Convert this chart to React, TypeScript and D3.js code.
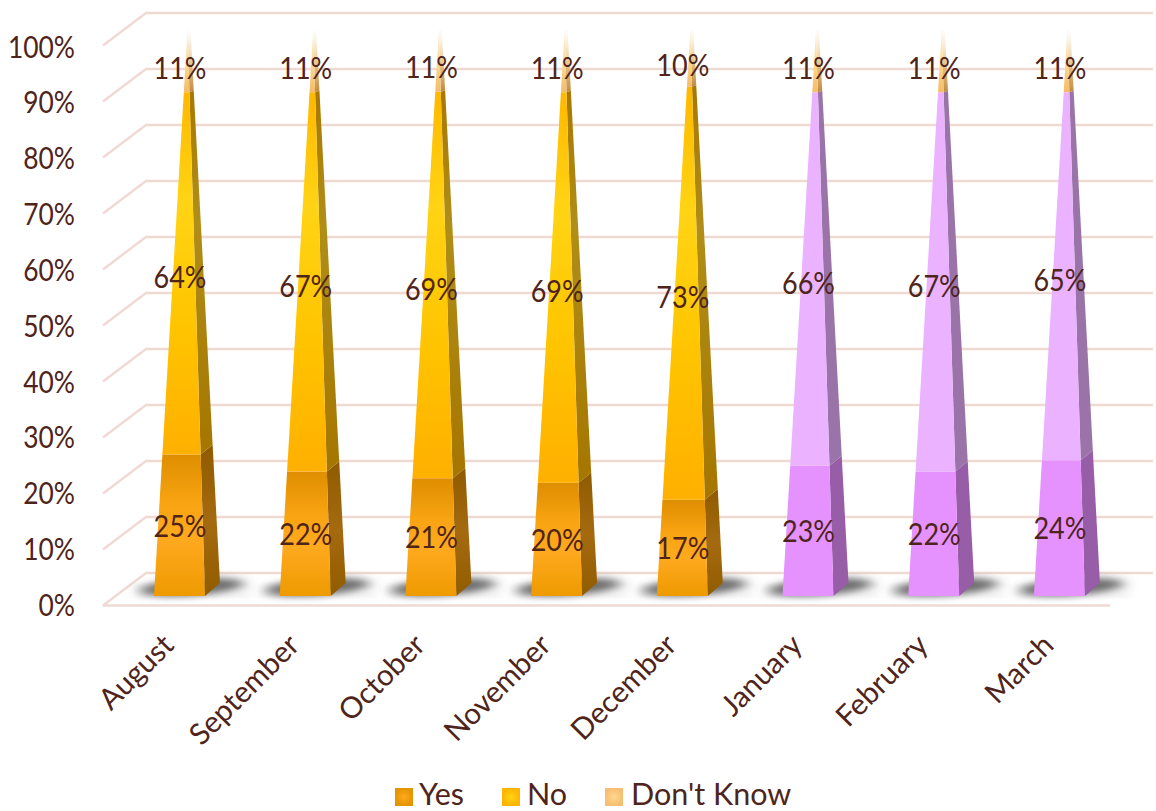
import React from "react";
import * as d3 from "d3";

// Survey results per month
const months = ["August", "September", "October", "November", "December", "January", "February", "March"];
const yes = [25, 22, 21, 20, 17, 23, 22, 24];
const no = [64, 67, 69, 69, 73, 66, 67, 65];
const dontKnow = [11, 11, 11, 11, 10, 11, 11, 11];
const purpleMonths = ["January", "February", "March"];
const seriesNames = ["Yes", "No", "Don't Know"];
const percentTicks = [0, 10, 20, 30, 40, 50, 60, 70, 80, 90, 100];

const INK = "#4F241A";
const GRID = "#EFDAD3";
const FONT = "Lato, 'Open Sans', sans-serif";

// Pyramid geometry: a base rhombus converging on an apex
const BASE_Y = 596;
const BASE_WIDTH = 51;
const DEPTH_X = 15;
const DEPTH_Y = 13;
const APEX_Y = 30;
const APEX_DX = 8;
const SIDE_APEX_DX = 11;

const x = d3.scaleBand<string>().domain(months).range([154 - 37.35, 154 - 37.35 + 125.7 * 8]).paddingInner(0);
const centre = (m: string) => (x(m) as number) + x.bandwidth() / 2;

const wallY = d3.scaleLinear().domain([0, 100]).range([573, 13]);
const frontY = d3.scaleLinear().domain([0, 100]).range([605.5, 45.5]);
const tickY = d3.scaleLinear().domain([0, 100]).range([616, 57.5]);
const labelY = d3.scaleLinear().domain([0, 1]).range([606.5, 48]);

const keys = ["yes", "no", "dontKnow"];
const rows = months.map((m, i) => ({ month: m, yes: yes[i], no: no[i], dontKnow: dontKnow[i] }));
const stacked = d3.stack<any>().keys(keys).offset(d3.stackOffsetExpand)(rows);

// Points on an edge of the pyramid, t = 0 at the base and t = 1 at the apex
function faces(m: string, t0: number, t1: number) {
  const c = centre(m);
  const bl = c - BASE_WIDTH / 2;
  const br = c + BASE_WIDTH / 2;
  const ax = c + APEX_DX;
  const edge = (bx: number, by: number, t: number, apexX = ax): [number, number] => [
    d3.interpolateNumber(bx, apexX)(t),
    d3.interpolateNumber(by, APEX_Y)(t),
  ];
  const line = d3.line();
  const front = line([edge(bl, BASE_Y, t0), edge(br, BASE_Y, t0), edge(br, BASE_Y, t1), edge(bl, BASE_Y, t1)]) + "Z";
  const side = line([
    edge(br, BASE_Y, t0),
    edge(br + DEPTH_X, BASE_Y - DEPTH_Y, t0, c + SIDE_APEX_DX),
    edge(br + DEPTH_X, BASE_Y - DEPTH_Y, t1, c + SIDE_APEX_DX),
    edge(br, BASE_Y, t1),
  ]) + "Z";
  return { front, side };
}

function frontFill(seriesIndex: number, m: string) {
  if (seriesIndex === 2) return "url(#frontDk)";
  if (purpleMonths.includes(m)) return seriesIndex === 0 ? "#E592FF" : "#EAB2FF";
  return seriesIndex === 0 ? "url(#frontYes)" : "url(#frontNo)";
}

function sideFill(seriesIndex: number, m: string) {
  if (seriesIndex === 2) return "url(#sideDk)";
  if (purpleMonths.includes(m)) return seriesIndex === 0 ? "#975DA7" : "#9A74A8";
  return seriesIndex === 0 ? "url(#sideYes)" : "url(#sideNo)";
}

function Stops({ colors }: { colors: [number, string][] }) {
  return (
    <>
      {colors.map(([o, c], i) => (
        <stop key={i} offset={o} stopColor={c} />
      ))}
    </>
  );
}

const legendItems = [
  { swatchX: 395, textX: 419, fill: "url(#swatchYes)" },
  { swatchX: 502, textX: 527, fill: "url(#swatchNo)" },
  { swatchX: 605, textX: 631, fill: "url(#swatchDk)" },
];

export default function App() {
  return (
    <svg
      width={1156}
      height={811}
      viewBox="0 0 1156 811"
      style={{ position: "absolute", left: 0, top: 0, display: "block", background: "#fff" }}
      fontFamily={FONT}
      fill={INK}
    >
      <defs>
        <linearGradient id="frontYes" x1="0" y1="0" x2="0" y2="1">
          <Stops colors={[[0, "#DE8E00"], [0.35, "#F9A412"], [0.6, "#FFA91F"], [1, "#EE9A00"]]} />
        </linearGradient>
        <linearGradient id="frontNo" x1="0" y1="0" x2="0" y2="1">
          <Stops colors={[[0, "#FFB800"], [0.3, "#FFD414"], [0.65, "#FFC400"], [1, "#FFB000"]]} />
        </linearGradient>
        <linearGradient id="frontDk" x1="0" y1="0" x2="0" y2="1">
          <Stops colors={[[0, "#FFF4E0"], [0.5, "#FFDA90"], [1, "#F4BC6A"]]} />
        </linearGradient>
        <linearGradient id="sideYes" x1="0" y1="0" x2="0" y2="1">
          <Stops colors={[[0, "#8F5B00"], [0.5, "#A56A10"], [1, "#915C00"]]} />
        </linearGradient>
        <linearGradient id="sideNo" x1="0" y1="0" x2="0" y2="1">
          <Stops colors={[[0, "#A87800"], [0.35, "#B08E18"], [1, "#A57600"]]} />
        </linearGradient>
        <linearGradient id="sideDk" x1="0" y1="0" x2="0" y2="1">
          <stop offset={0} stopColor="#F6E2BE" stopOpacity={0.1} />
          <stop offset={0.55} stopColor="#E0B46C" stopOpacity={0.8} />
          <stop offset={1} stopColor="#C08A40" />
        </linearGradient>
        <radialGradient id="swatchYes">
          <Stops colors={[[0, "#FFAA20"], [1, "#E39400"]]} />
        </radialGradient>
        <radialGradient id="swatchNo">
          <Stops colors={[[0, "#FFD414"], [1, "#FFB400"]]} />
        </radialGradient>
        <radialGradient id="swatchDk">
          <Stops colors={[[0, "#FFD78E"], [1, "#F6BE72"]]} />
        </radialGradient>
        <filter id="floorShadow" x="-30%" y="-150%" width="160%" height="400%">
          <feGaussianBlur stdDeviation="7 3.8" />
        </filter>
        <filter id="floorHaze" x="-30%" y="-100%" width="160%" height="300%">
          <feGaussianBlur stdDeviation="4 1.5" />
        </filter>
      </defs>

      {/* Wall and floor grid */}
      <g stroke={GRID} strokeWidth={2.4} fill="none">
        {percentTicks.map((t) => (
          <path key={t} d={`M103,${frontY(t)}L146,${wallY(t)}H1153`} />
        ))}
        <path d={`M103,${frontY(0)}H1110`} />
      </g>

      {/* Blurred shadows cast on the floor */}
      {months.map((m) => (
        <g key={m}>
          <rect x={centre(m) - 42} y={583} width={112} height={15} fill="#F4F4F4" filter="url(#floorHaze)" />
          <ellipse
            transform={`rotate(-4 ${centre(m) + 12} ${BASE_Y - 9})`}
            cx={centre(m) + 12}
            cy={BASE_Y - 9}
            rx={52}
            ry={8.5}
            fill="#555"
            fillOpacity={0.85}
            filter="url(#floorShadow)"
          />
        </g>
      ))}

      {/* Stacked pyramids */}
      {months.map((m, mi) => (
        <g key={m}>
          {stacked.map((layer, si) => {
            const [t0, t1] = layer[mi];
            const { front, side } = faces(m, t0, t1);
            return (
              <g key={si}>
                <path d={side} fill={sideFill(si, m)} />
                <path d={front} fill={frontFill(si, m)} />
              </g>
            );
          })}
        </g>
      ))}

      {/* Value labels */}
      <g fontSize={30} textAnchor="middle">
        {months.map((m, mi) =>
          stacked.map((layer, si) => {
            const [t0, t1] = layer[mi];
            const value = [yes, no, dontKnow][si][mi];
            return (
              <text key={si} transform={`translate(${centre(m) + 0.5},${labelY((t0 + t1) / 2)}) scale(0.9,1)`}>
                {value}%
              </text>
            );
          })
        )}
      </g>

      {/* Percent axis */}
      <g fontSize={30} textAnchor="end">
        {percentTicks.map((t) => (
          <text key={t} transform={`translate(75,${tickY(t)}) scale(0.88,1)`}>
            {t}%
          </text>
        ))}
      </g>

      {/* Month axis */}
      <g fontSize={29.5} textAnchor="end">
        {months.map((m) => (
          <text key={m} transform={`translate(${centre(m) - 4},${BASE_Y + 51}) rotate(-45)`}>
            {m}
          </text>
        ))}
      </g>

      {/* Legend */}
      <g fontSize={30.5}>
        {seriesNames.map((name, i) => (
          <g key={name}>
            <rect x={legendItems[i].swatchX} y={788} width={18} height={18} fill={legendItems[i].fill} />
            <text x={legendItems[i].textX} y={804.5}>
              {name}
            </text>
          </g>
        ))}
      </g>
    </svg>
  );
}
